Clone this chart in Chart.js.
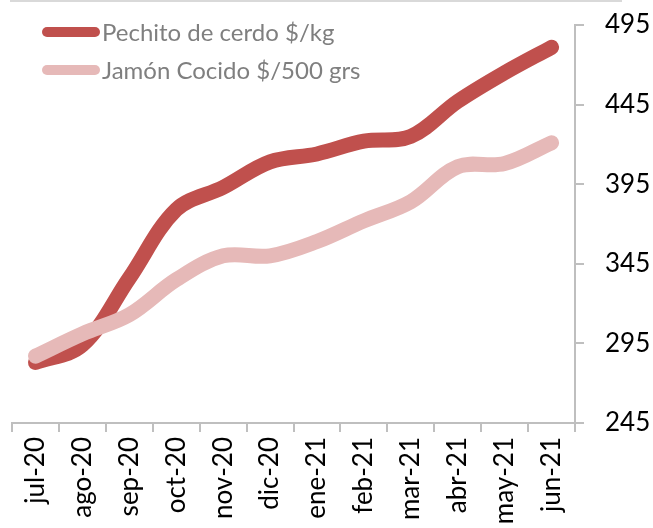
<!DOCTYPE html>
<html lang="es">
<head>
<meta charset="UTF-8">
<title>Pechito de cerdo y Jamón Cocido</title>
<script src="https://cdn.jsdelivr.net/npm/chart.js"></script>
<style>
  html, body { margin: 0; padding: 0; background: #ffffff; }
  #wrap { width: 653px; height: 528px; position: relative; }
</style>
</head>
<body>
<div id="wrap"><canvas id="chart"></canvas></div>
<script>
const meses = ['jul-20', 'ago-20', 'sep-20', 'oct-20', 'nov-20', 'dic-20',
               'ene-21', 'feb-21', 'mar-21', 'abr-21', 'may-21', 'jun-21'];
const pechito = [283, 294, 336, 379, 393, 409, 414, 422, 425, 447, 465, 481];
const jamon   = [287, 301, 313, 335, 350, 350, 359, 372, 384, 406, 408, 421];
const yMin = 245, yMax = 495, yStep = 50;

// thin grey line on top + legend drawn inside the plot
const extras = {
  id: 'extras',
  afterDraw(chart) {
    const ctx = chart.ctx;
    ctx.save();
    ctx.fillStyle = '#d9d9d9';
    ctx.fillRect(10, 0, 612, 2);
    chart.data.datasets.forEach((ds, i) => {
      const y = 32 + i * 38;
      ctx.strokeStyle = ds.borderColor;
      ctx.lineWidth = 10;
      ctx.lineCap = 'round';
      ctx.beginPath();
      ctx.moveTo(47, y);
      ctx.lineTo(95, y);
      ctx.stroke();
      ctx.fillStyle = '#7f7f7f';
      ctx.font = '24px Lato';
      ctx.textBaseline = 'middle';
      ctx.fillText(ds.label, 102, y + 1);
    });
    ctx.restore();
  }
};

const line = (label, data, color, order) => ({
  label: label,
  data: data,
  borderColor: color,
  backgroundColor: color,
  borderWidth: 15,
  tension: 0.35,
  pointRadius: 0,
  borderCapStyle: 'round',
  borderJoinStyle: 'round',
  fill: false,
  clip: false,
  order: order
});

new Chart(document.getElementById('chart'), {
  type: 'line',
  data: {
    labels: meses,
    datasets: [
      line('Pechito de cerdo $/kg', pechito, '#C0504D', 2),
      line('Jamón Cocido $/500 grs', jamon, '#E6B9B8', 1)
    ]
  },
  options: {
    responsive: true,
    maintainAspectRatio: false,
    animation: false,
    layout: { padding: { top: 25, left: 12, right: 0, bottom: 0 } },
    plugins: { legend: { display: false }, tooltip: { enabled: false } },
    scales: {
      x: {
        offset: true,
        grid: { drawOnChartArea: false, drawTicks: true, tickLength: 9, color: '#bfbfbf', lineWidth: 2, offset: true },
        border: { color: '#bfbfbf', width: 2 },
        ticks: { color: '#000000', font: { family: 'Lato', size: 26 }, minRotation: 90, maxRotation: 90, autoSkip: false, padding: 5 },
        afterFit(s) { s.height = 105; }
      },
      y: {
        position: 'right',
        min: yMin,
        max: yMax,
        grid: { drawOnChartArea: false, tickLength: 9, color: '#bfbfbf', lineWidth: 2 },
        border: { color: '#bfbfbf', width: 2 },
        ticks: { stepSize: yStep, color: '#000000', font: { family: 'Lato', size: 26 }, padding: 21 },
        afterFit(s) { s.width = 78; s.paddingTop = 0; s.paddingBottom = 0; }
      }
    }
  },
  plugins: [extras]
});
</script>
</body>
</html>
